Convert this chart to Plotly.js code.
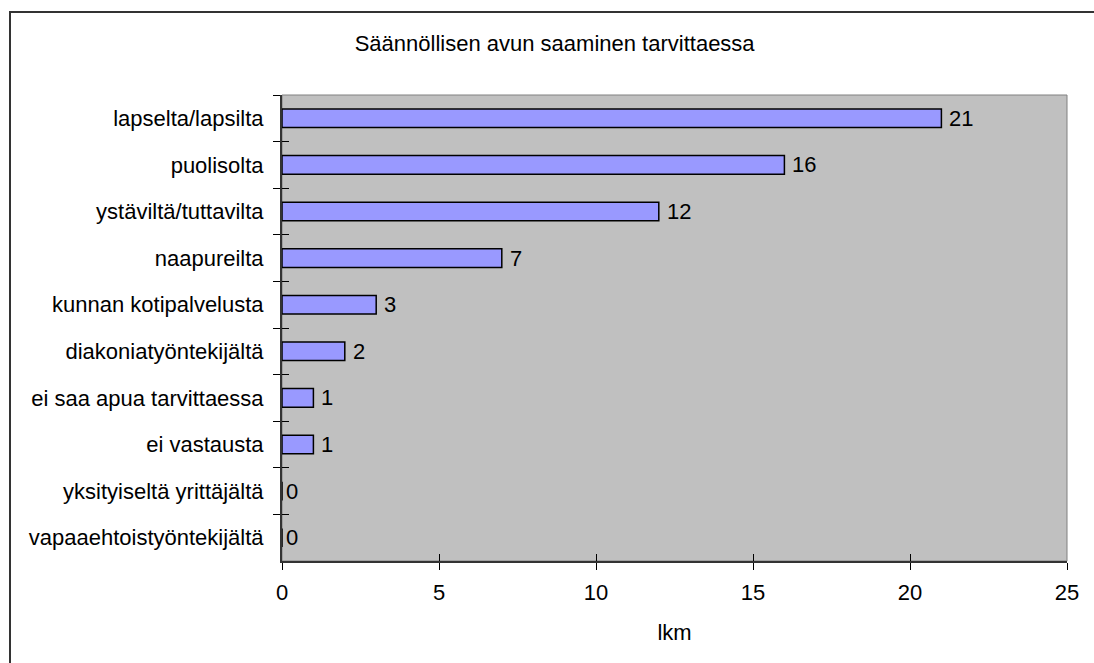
<!DOCTYPE html>
<html>
<head>
<meta charset="utf-8">
<script src="https://cdn.plot.ly/plotly-3.0.1.min.js"></script>
<style>
  html, body { margin: 0; padding: 0; background: #fff; }
  #chart { width: 1094px; height: 663px; }
</style>
</head>
<body>
<div id="chart"></div>
<script>
// Sources of regular help when needed (counts)
const categories = [
  "lapselta/lapsilta",
  "puolisolta",
  "ystäviltä/tuttavilta",
  "naapureilta",
  "kunnan kotipalvelusta",
  "diakoniatyöntekijältä",
  "ei saa apua tarvittaessa",
  "ei vastausta",
  "yksityiseltä yrittäjältä",
  "vapaaehtoistyöntekijältä"
];
const counts = [21, 16, 12, 7, 3, 2, 1, 1, 0, 0];
const xTicks = [0, 5, 10, 15, 20, 25];

const chartTitle = "Säännöllisen avun saaminen tarvittaessa";
const xTitle = "lkm";

const FONT = "Liberation Sans, Arial, sans-serif";
const FS = 22;

const bars = {
  type: "bar",
  orientation: "h",
  x: counts,
  y: categories,
  width: 0.4,
  marker: { color: "#9999FF", line: { color: "#000000", width: 1.5 } },
  hoverinfo: "x+y",
  xaxis: "x",
  yaxis: "y"
};

// empty companion trace so the overlay axes (inner tick halves) get drawn
const overlay = {
  type: "scatter",
  mode: "none",
  x: counts,
  y: categories,
  hoverinfo: "skip",
  showlegend: false,
  xaxis: "x2",
  yaxis: "y2"
};

// value labels at the end of each bar (zero-length bars sit on the axis line)
const valueLabels = counts.map((v, i) => ({
  x: v,
  y: categories[i],
  xref: "x",
  yref: "y",
  text: String(v),
  showarrow: false,
  xanchor: "left",
  yanchor: "middle",
  xshift: v === 0 ? 2 : 6,
  font: { family: FONT, size: FS, color: "#000" }
}));

const yCommon = {
  type: "category",
  categoryorder: "array",
  categoryarray: categories,
  range: [categories.length - 0.5, -0.5],
  tickson: "boundaries",
  ticklen: 7,
  tickwidth: 1,
  tickcolor: "#000",
  fixedrange: true
};

const layout = {
  width: 1094,
  height: 663,
  margin: { l: 282, r: 27, t: 95, b: 102 },
  paper_bgcolor: "#ffffff",
  plot_bgcolor: "#C0C0C0",
  showlegend: false,
  font: { family: FONT, size: FS, color: "#000" },
  title: {
    text: chartTitle,
    x: 0.507,
    xref: "container",
    xanchor: "center",
    y: 1 - 43 / 663,
    yref: "container",
    yanchor: "middle",
    font: { family: FONT, size: FS, color: "#000" }
  },
  xaxis: {
    range: [0, 25],
    tickvals: xTicks,
    ticktext: xTicks.map(String),
    ticks: "outside",
    ticklen: 7,
    tickwidth: 1,
    tickcolor: "#000",
    showgrid: false,
    zeroline: false,
    showline: true,
    linecolor: "#333",
    linewidth: 2,
    ticklabelstandoff: 4,
    title: { text: xTitle, standoff: 20, font: { family: FONT, size: FS, color: "#000" } },
    fixedrange: true
  },
  yaxis: Object.assign({}, yCommon, {
    ticks: "outside",
    showgrid: false,
    zeroline: false,
    showline: true,
    linecolor: "#333",
    linewidth: 2,
    ticklabelstandoff: 12
  }),
  xaxis2: {
    overlaying: "x",
    anchor: "y2",
    side: "bottom",
    range: [0, 25],
    tickvals: xTicks,
    ticks: "inside",
    ticklen: 7,
    tickwidth: 1,
    tickcolor: "#000",
    showticklabels: false,
    showgrid: false,
    zeroline: false,
    showline: false,
    fixedrange: true
  },
  yaxis2: Object.assign({}, yCommon, {
    overlaying: "y",
    anchor: "x2",
    side: "left",
    ticks: "inside",
    showticklabels: false,
    showgrid: false,
    zeroline: false,
    showline: false
  }),
  shapes: [
    // light border on the plot area's top and right sides
    {
      type: "rect", xref: "paper", yref: "paper",
      x0: 0, x1: 1, y0: 0, y1: 1,
      line: { color: "#808080", width: 1 },
      layer: "below"
    },
    // chart frame
    {
      type: "rect", xref: "paper", yref: "paper",
      x0: (10 - 282) / 785, x1: (1110 - 282) / 785,
      y0: (561 - 680) / 466, y1: 1 + (95 - 12) / 466,
      line: { color: "#333333", width: 2 },
      layer: "above"
    }
  ],
  annotations: valueLabels,
  bargap: 0.6
};

Plotly.newPlot("chart", [bars, overlay], layout, { displayModeBar: false, staticPlot: true });
</script>
</body>
</html>
